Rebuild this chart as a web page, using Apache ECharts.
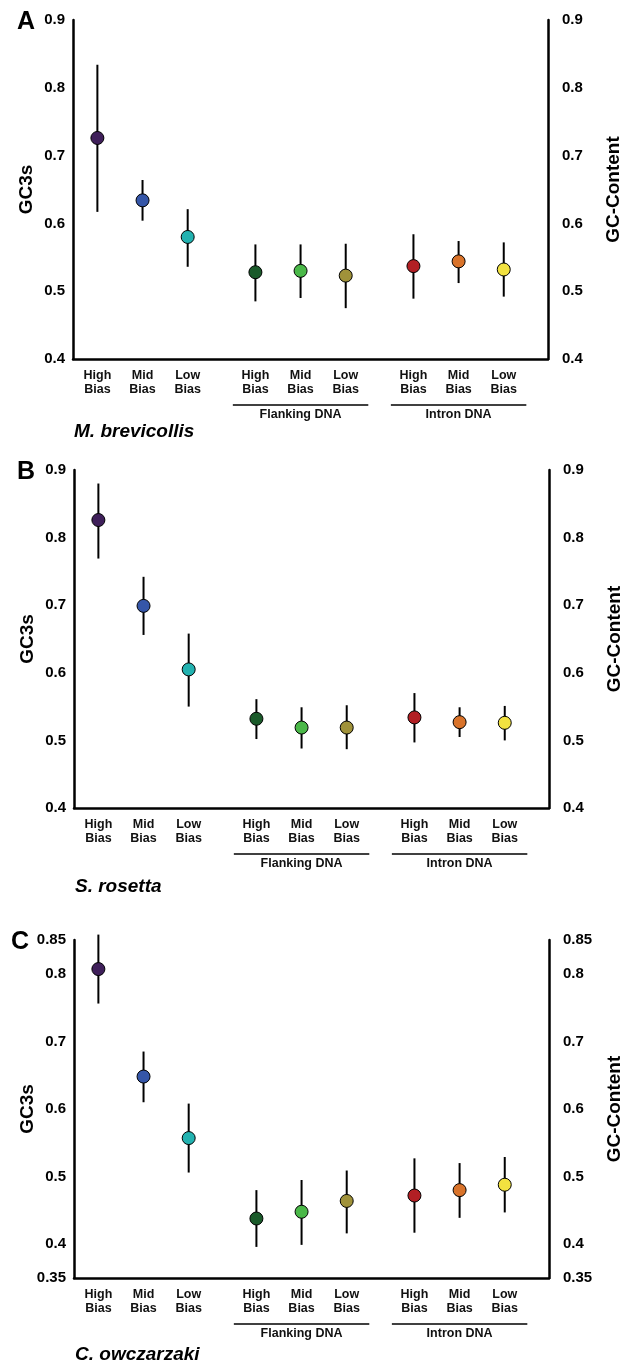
<!DOCTYPE html>
<html>
<head>
<meta charset="utf-8">
<script src="https://cdn.jsdelivr.net/npm/echarts@6/dist/echarts.min.js"></script>
<style>
  html, body { margin: 0; padding: 0; background: #fff; }
  #chart { width: 621px; height: 1363px; }
</style>
</head>
<body>
<div id="chart"></div>
<script>
// Sequence classes shown on each panel (left to right)
const categories = ['High Bias', 'Mid Bias', 'Low Bias',
                    'High Bias', 'Mid Bias', 'Low Bias',
                    'High Bias', 'Mid Bias', 'Low Bias'];
// Slot of each class along the x scale (gap between coding / flanking / intron groups)
const slotX = [0, 1, 2, 3.5, 4.5, 5.5, 7, 8, 9];
const groupNames = ['Flanking DNA', 'Intron DNA'];
const groupSpan = [[3, 6], [6.5, 9.5]];
const pointColors = ['#3f1f5a', '#3556a8', '#22b2b0',
                     '#1a5a2a', '#4ab848', '#a0923a',
                     '#b21f24', '#d9732a', '#f2e240'];

const species = ['M. brevicollis', 'S. rosetta', 'C. owczarzaki'];
const panelLetters = ['A', 'B', 'C'];

// M. brevicollis
const meanA = [0.726, 0.634, 0.580, 0.528, 0.530, 0.523, 0.537, 0.544, 0.532];
const lowA  = [0.617, 0.604, 0.536, 0.485, 0.490, 0.475, 0.489, 0.512, 0.492];
const highA = [0.834, 0.664, 0.621, 0.569, 0.569, 0.570, 0.584, 0.574, 0.572];

// S. rosetta
const meanB = [0.826, 0.699, 0.605, 0.532, 0.519, 0.519, 0.534, 0.527, 0.526];
const lowB  = [0.769, 0.656, 0.550, 0.502, 0.488, 0.487, 0.497, 0.505, 0.500];
const highB = [0.880, 0.742, 0.658, 0.561, 0.549, 0.552, 0.570, 0.549, 0.551];

// C. owczarzaki
const meanC = [0.807, 0.648, 0.557, 0.438, 0.448, 0.464, 0.472, 0.480, 0.488];
const lowC  = [0.756, 0.610, 0.506, 0.396, 0.399, 0.416, 0.417, 0.439, 0.447];
const highC = [0.858, 0.685, 0.608, 0.480, 0.495, 0.509, 0.527, 0.520, 0.529];

// Y scale per panel
const yRangeA = [0.4, 0.9];
const yRangeB = [0.4, 0.9];
const yRangeC = [0.35, 0.85];
const yTicksA = [0.4, 0.5, 0.6, 0.7, 0.8, 0.9];
const yTicksB = [0.4, 0.5, 0.6, 0.7, 0.8, 0.9];
const yTicksC = [0.35, 0.4, 0.5, 0.6, 0.7, 0.8, 0.85];

const panels = [
  { mean: meanA, low: lowA, high: highA, range: yRangeA, ticks: yTicksA },
  { mean: meanB, low: lowB, high: highB, range: yRangeB, ticks: yTicksB },
  { mean: meanC, low: lowC, high: highC, range: yRangeC, ticks: yTicksC }
];

const FONT = '"Liberation Sans", Arial, Helvetica, sans-serif';
const grids = [
  { left: 73, top: 20, width: 475, height: 339, outerBoundsMode: 'none', containLabel: false },
  { left: 74, top: 470, width: 475, height: 338, outerBoundsMode: 'none', containLabel: false },
  { left: 74, top: 940, width: 475, height: 338, outerBoundsMode: 'none', containLabel: false }
];

const chart = echarts.init(document.getElementById('chart'), null, { renderer: 'canvas' });

const axisLineStyle = { color: '#000', width: 2.5 };
const xAxes = [], yAxes = [], series = [];

panels.forEach((p, i) => {
  xAxes.push({
    type: 'value', gridIndex: i, min: -0.54, max: 9.98,
    axisLine: { show: true, onZero: false, lineStyle: axisLineStyle },
    axisTick: { show: false },
    splitLine: { show: false },
    axisLabel: {
      customValues: slotX,
      margin: 10,
      fontFamily: FONT, fontSize: 12.5, fontWeight: 'bold', color: '#111',
      lineHeight: 14,
      formatter: v => {
        const k = slotX.indexOf(v);
        return k >= 0 ? categories[k].replace(' ', '\n') : '';
      }
    }
  });
  const yCommon = {
    type: 'value', gridIndex: i, min: p.range[0], max: p.range[1], interval: 0.05,
    axisLine: { show: true, onZero: false, lineStyle: axisLineStyle },
    axisTick: { show: false },
    splitLine: { show: false },
    nameLocation: 'middle',
    nameTextStyle: { fontFamily: FONT, fontSize: 19, fontWeight: 'bold', color: '#000' }
  };
  yAxes.push(Object.assign({}, yCommon, {
    position: 'left', name: 'GC3s', nameGap: 37, nameMoveOverlap: false,
    axisLabel: { customValues: p.ticks, margin: 8, fontFamily: FONT, fontSize: 15, fontWeight: 'bold', color: '#000' }
  }));
  yAxes.push(Object.assign({}, yCommon, {
    position: 'right', name: 'GC-Content', nameGap: 56,
    axisLabel: { customValues: p.ticks, margin: 14, fontFamily: FONT, fontSize: 15, fontWeight: 'bold', color: '#000' }
  }));

  // vertical error bars
  series.push({
    type: 'custom', xAxisIndex: i, yAxisIndex: 2 * i, clip: false, z: 2,
    data: slotX.map((x, k) => [x, p.low[k], p.high[k]]),
    renderItem: (params, api) => {
      const a = api.coord([api.value(0), api.value(1)]);
      const b = api.coord([api.value(0), api.value(2)]);
      return {
        type: 'line',
        shape: { x1: a[0], y1: a[1], x2: b[0], y2: b[1] },
        style: { stroke: '#000', lineWidth: 2 }
      };
    }
  });
  // mean points
  series.push({
    type: 'scatter', xAxisIndex: i, yAxisIndex: 2 * i, z: 3,
    symbol: 'circle', symbolSize: 13,
    data: slotX.map((x, k) => ({
      value: [x, p.mean[k]],
      itemStyle: { color: pointColors[k], opacity: 1, borderColor: '#000', borderWidth: 1 }
    }))
  });
});

chart.setOption({
  animation: false,
  grid: grids,
  xAxis: xAxes,
  yAxis: yAxes,
  series: series
});

// Group brackets, panel letters and species names placed from the axis scales
const graphics = [];
const bottomOffsets = [73, 79, 77];
panels.forEach((p, i) => {
  const toPx = pt => chart.convertToPixel({ xAxisIndex: i, yAxisIndex: 2 * i }, pt);
  const base = toPx([0, p.range[0]])[1];
  const topPx = toPx([0, p.range[1]])[1];
  const leftPx = toPx([-0.54, p.range[0]])[0];
  groupNames.forEach((g, j) => {
    const x1 = toPx([groupSpan[j][0], p.range[0]])[0];
    const x2 = toPx([groupSpan[j][1], p.range[0]])[0];
    const y = base + 46;
    graphics.push({
      type: 'line', silent: true,
      shape: { x1: x1, y1: y, x2: x2, y2: y },
      style: { stroke: '#000', lineWidth: 1.6 }
    });
    graphics.push({
      type: 'text', silent: true, x: (x1 + x2) / 2, y: y + 3,
      style: { text: g, font: 'bold 12.5px ' + FONT, fill: '#111', align: 'center', verticalAlign: 'top' }
    });
  });
  graphics.push({
    type: 'text', silent: true, x: leftPx + 1, y: base + bottomOffsets[i],
    style: { text: species[i], font: 'italic bold 19px ' + FONT, fill: '#000', align: 'left', verticalAlign: 'middle' }
  });
  graphics.push({
    type: 'text', silent: true, x: i === 2 ? 20 : 26, y: topPx + 2,
    style: { text: panelLetters[i], font: 'bold 25px ' + FONT, fill: '#000', align: 'center', verticalAlign: 'middle' }
  });
});
chart.setOption({ graphic: graphics });
</script>
</body>
</html>
